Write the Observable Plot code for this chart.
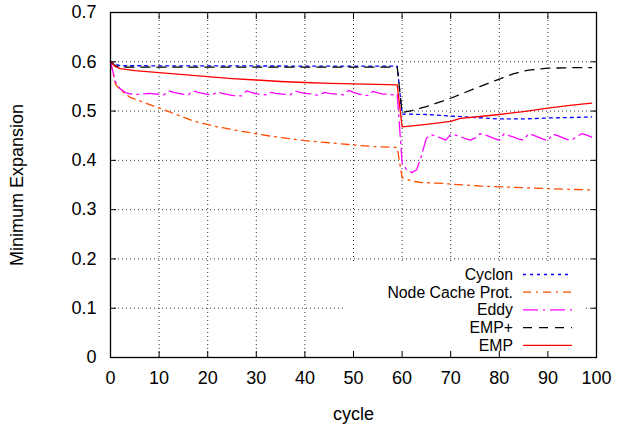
<!DOCTYPE html>
<html><head><meta charset="utf-8">
<script src="https://cdn.jsdelivr.net/npm/d3@7"></script>
<script src="https://cdn.jsdelivr.net/npm/@observablehq/plot@0.6"></script>
<style>
body{margin:0;background:#fff;}
#chart{width:618px;height:429px;}
</style>
</head><body><div id="chart"></div>
<script>
// ---- data ----
const xTicks = [0,10,20,30,40,50,60,70,80,90,100];
const yTicks = [0,0.1,0.2,0.3,0.4,0.5,0.6,0.7];
const seriesNames = ["Cyclon","Node Cache Prot.","Eddy","EMP+","EMP"];

const cyclonX = [0,1,2,59,60,65,70,75,80,85,90,95,99];
const cyclonY = [0.600,0.595,0.592,0.591,0.494,0.493,0.490,0.487,0.484,0.484,0.486,0.487,0.488];

const nodeX = [0,1,2,4,7,12,17,22,27,33,40,47,54,59,60,62,64,67,70,76,86,95,99];
const nodeY = [0.600,0.555,0.543,0.528,0.517,0.499,0.480,0.468,0.459,0.449,0.440,0.434,0.428,0.426,0.365,0.358,0.355,0.354,0.352,0.348,0.344,0.341,0.340];

const eddyX = [0,1,2,3,4,5,6,7,8,9,10,11,12,13,14,15,16,17,18,19,20,21,22,23,24,25,26,27,28,29,30,31,32,33,34,35,36,37,38,39,40,41,42,43,44,45,46,47,48,49,50,51,52,53,54,55,56,57,58,59,60,61,62,63,64,65,66,67,68,69,70,71,72,73,74,75,76,77,78,79,80,81,82,83,84,85,86,87,88,89,90,91,92,93,94,95,96,97,98,99];
const eddyY = [0.600,0.560,0.545,0.538,0.535,0.534,0.534,0.535,0.536,0.535,0.534,0.533,0.541,0.538,0.536,0.534,0.533,0.541,0.538,0.536,0.534,0.533,0.539,0.536,0.534,0.532,0.531,0.531,0.541,0.538,0.535,0.534,0.533,0.538,0.536,0.535,0.534,0.533,0.541,0.538,0.536,0.535,0.533,0.532,0.538,0.536,0.535,0.534,0.533,0.542,0.538,0.535,0.532,0.532,0.540,0.537,0.535,0.534,0.533,0.535,0.395,0.380,0.375,0.381,0.410,0.445,0.452,0.449,0.445,0.441,0.453,0.451,0.448,0.444,0.441,0.445,0.454,0.452,0.448,0.444,0.441,0.454,0.450,0.447,0.443,0.441,0.454,0.451,0.447,0.443,0.440,0.453,0.450,0.446,0.442,0.442,0.449,0.454,0.451,0.447];

const empPlusX = [0,1,2,59,60,62,65,70,75,80,83,86,90,95,99];
const empPlusY = [0.600,0.592,0.589,0.589,0.497,0.501,0.509,0.526,0.546,0.565,0.576,0.583,0.587,0.588,0.588];

const empX = [0,1,2,5,10,15,20,25,30,35,40,45,50,55,59,60,65,70,72,76,80,85,90,95,99];
const empY = [0.600,0.590,0.586,0.582,0.578,0.574,0.570,0.566,0.563,0.560,0.558,0.556,0.555,0.554,0.553,0.468,0.473,0.479,0.485,0.489,0.493,0.499,0.506,0.512,0.516];

// ---- styles ----
const styles = {
  "Cyclon": {color:"#0000ff", dash:"3,4"},
  "Node Cache Prot.": {color:"#ff4c00", dash:"8,5,2,5"},
  "Eddy": {color:"#ff00ff", dash:"15,5,2,5"},
  "EMP+": {color:"#000000", dash:"9,7"},
  "EMP": {color:"#ff0000", dash:null}
};

const series = [
  {name:"Cyclon", xs:cyclonX, ys:cyclonY},
  {name:"Node Cache Prot.", xs:nodeX, ys:nodeY},
  {name:"Eddy", xs:eddyX, ys:eddyY},
  {name:"EMP+", xs:empPlusX, ys:empPlusY},
  {name:"EMP", xs:empX, ys:empY}
];
const rows = s => s.xs.map((x,i)=>({cycle:x, value:s.ys[i], series:s.name}));

const fmtY = d => String(+d.toFixed(1));
const FONT = "'Liberation Sans', Arial, Helvetica, sans-serif";

function legendMark(index, scales, values, dims) {
  const g = d3.create("svg:g");
  g.append("rect").attr("x", 345).attr("y", 262).attr("width", 240).attr("height", 95).attr("fill", "white");
  seriesNames.forEach((n, i) => {
    const y = 274.5 + i * 17.7;
    g.append("text").attr("x", 513).attr("y", y).attr("text-anchor", "end")
      .attr("dy", "0.35em").attr("fill", "black").attr("font-size", 15.8).text(n);
    const st = styles[n];
    const l = g.append("line").attr("x1", 523).attr("x2", 572).attr("y1", y).attr("y2", y)
      .attr("stroke", st.color).attr("stroke-width", 1.3);
    if (st.dash) l.attr("stroke-dasharray", st.dash);
  });
  return g.node();
}

const lineMarks = series.map(s => Plot.line(rows(s), {
  x: "cycle", y: "value", stroke: styles[s.name].color, strokeWidth: 1.3,
  strokeDasharray: styles[s.name].dash || undefined
}));

const chart = Plot.plot({
  width: 618, height: 429,
  marginLeft: 110, marginRight: 22, marginTop: 12, marginBottom: 72,
  style: {fontFamily: FONT, fontSize: "18px", background: "white", color: "black"},
  x: {domain: [0, 100]},
  y: {domain: [0, 0.7]},
  marks: [
    Plot.gridX(xTicks, {stroke: "#333", strokeOpacity: 1, strokeDasharray: "1,3", strokeWidth: 1}),
    Plot.gridY(yTicks, {stroke: "#333", strokeOpacity: 1, strokeDasharray: "1,3", strokeWidth: 1}),
    legendMark,
    ...lineMarks,
    Plot.frame({stroke: "black", strokeWidth: 1.3}),
    Plot.axisX(xTicks, {anchor: "bottom", tickSize: -6, text: null, label: null}),
    Plot.axisX(xTicks, {anchor: "top", tickSize: -6, text: null, label: null}),
    Plot.axisY(yTicks, {anchor: "left", tickSize: -6, text: null, label: null}),
    Plot.axisY(yTicks, {anchor: "right", tickSize: -6, text: null, label: null}),
    Plot.axisX(xTicks, {anchor: "bottom", tickSize: 0, tickPadding: 14, label: "cycle", labelAnchor: "center", labelArrow: "none", labelOffset: 62}),
    Plot.axisY(yTicks, {anchor: "left", tickSize: 0, tickPadding: 14, tickFormat: fmtY, label: "Minimum Expansion", labelAnchor: "center", labelArrow: "none", labelOffset: 100})
  ]
});
document.getElementById("chart").appendChild(chart);
</script>
</body></html>
